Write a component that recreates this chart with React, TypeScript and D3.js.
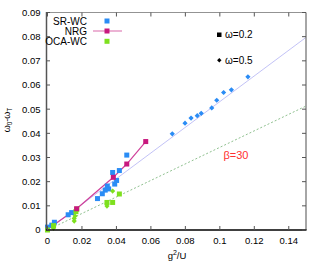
import * as d3 from 'd3'

// data
const srSquares: [number, number][] = [
  [0.0, 0.0012], [0.004, 0.0032], [0.0025, 0.002], [0.012, 0.0063], [0.014, 0.0072],
  [0.029, 0.013], [0.0318, 0.015], [0.0335, 0.0165], [0.0347, 0.0182], [0.0355, 0.017],
  [0.0378, 0.0238], [0.0401, 0.0205], [0.039, 0.019], [0.0417, 0.0246], [0.046, 0.031],
]
const srDiamonds: [number, number][] = [
  [0.0724, 0.0398], [0.0798, 0.0442], [0.0833, 0.0463], [0.0869, 0.0473], [0.0892, 0.0483],
  [0.0953, 0.0505], [0.0982, 0.0537], [0.1022, 0.0569], [0.1067, 0.058], [0.1163, 0.0634],
]
const ocaSquares: [number, number][] = [
  [0.0, 0.0], [0.0035, 0.0018], [0.0165, 0.0076], [0.017, 0.0086],
  [0.0345, 0.0114], [0.0378, 0.0114], [0.0417, 0.0149],
]
const ocaDiamonds: [number, number][] = [
  [0.0, 0.0002], [0.0035, 0.0008], [0.0155, 0.0048], [0.0155, 0.0037], [0.016, 0.0058],
  [0.0345, 0.0099], [0.0345, 0.0108], [0.0378, 0.0161],
]
const nrg: [number, number][] = [
  [0.0, 0.0003], [0.0169, 0.0088], [0.0382, 0.0218], [0.046, 0.0273], [0.057, 0.0366],
]
const fitSR: [number, number][] = [[0, 0], [0.15, 0.0797]]
const fitOCA: [number, number][] = [[0, 0], [0.15, 0.0513]]
const xTicks = [0, 0.02, 0.04, 0.06, 0.08, 0.1, 0.12, 0.14]
const yTicks = [0, 0.01, 0.02, 0.03, 0.04, 0.05, 0.06, 0.07, 0.08, 0.09]

const blue = '#2a8cf5'
const green = '#7ee01e'
const pink = '#c8187e'

const App = () => {
  const x = d3.scaleLinear().domain([0, 0.15]).range([47.5, 306])
  const y = d3.scaleLinear().domain([0, 0.09]).range([230, 12.5])
  const line = d3.line<[number, number]>().x((d) => x(d[0])).y((d) => y(d[1]))
  const diamond = (cx: number, cy: number, r = 2.6) =>
    `M${cx},${cy - r}L${cx + r},${cy}L${cx},${cy + r}L${cx - r},${cy}Z`
  const fmt = (v: number) => (v === 0 ? '0' : String(+v.toFixed(2)))
  const font = 'Liberation Sans, Arial, sans-serif'

  return (
    <svg width={334} height={275} style={{ position: 'absolute', left: 0, top: 0 }} fontFamily={font}>
      <rect width={334} height={275} fill="white" />
      {/* fit lines */}
      <path d={line(fitSR)!} stroke="#b2b2f4" strokeWidth={0.8} fill="none" />
      <path d={line(fitOCA)!} stroke="#72b072" strokeWidth={0.8} strokeDasharray="2,2" fill="none" />
      {/* NRG */}
      <path d={line(nrg)!} stroke="#d0409a" strokeWidth={1.2} fill="none" />
      {srSquares.map((d, i) => (
        <rect key={'bs' + i} x={x(d[0]) - 2.5} y={y(d[1]) - 2.5} width={5} height={5} fill={blue} />
      ))}
      {srDiamonds.map((d, i) => (
        <path key={'bd' + i} d={diamond(x(d[0]), y(d[1]))} fill={blue} />
      ))}
      {ocaSquares.map((d, i) => (
        <rect key={'gs' + i} x={x(d[0]) - 2.5} y={y(d[1]) - 2.5} width={5} height={5} fill={green} />
      ))}
      {ocaDiamonds.map((d, i) => (
        <path key={'gd' + i} d={diamond(x(d[0]), y(d[1]))} fill={green} />
      ))}
      {nrg.slice(1).map((d, i) => (
        <rect key={'n' + i} x={x(d[0]) - 2.5} y={y(d[1]) - 2.5} width={5} height={5} fill={pink} />
      ))}
      {/* frame */}
      <line x1={306} y1={12.5} x2={306} y2={230} stroke="#888" strokeWidth={1.5} />
      <line x1={46.5} y1={12.5} x2={306} y2={12.5} stroke="#777" strokeWidth={0.8} />
      <line x1={46.5} y1={12} x2={46.5} y2={230} stroke="#555" strokeWidth={1.5} />
      <line x1={46} y1={230} x2={306.5} y2={230} stroke="#000" strokeWidth={1.5} />
      {xTicks.map((t) => (
        <g key={'x' + t}>
          <line x1={x(t)} x2={x(t)} y1={230} y2={226} stroke="#555" />
          <line x1={x(t)} x2={x(t)} y1={12.5} y2={16.5} stroke="#555" />
          <text x={x(t)} y={244} fontSize={9.5} textAnchor="middle">{fmt(t)}</text>
        </g>
      ))}
      {yTicks.map((t) => (
        <g key={'y' + t}>
          <line x1={46.5} x2={50} y1={y(t)} y2={y(t)} stroke="#555" />
          <line x1={306} x2={302} y1={y(t)} y2={y(t)} stroke="#555" />
          <text x={40.5} y={y(t) + 3.4} fontSize={9.5} textAnchor="end">{fmt(t)}</text>
        </g>
      ))}
      {/* axis labels */}
      <text x={177} y={259} fontSize={9.5} textAnchor="middle">
        g<tspan dy={-4} fontSize={7}>2</tspan><tspan dy={4}>/U</tspan>
      </text>
      <text transform="translate(10,120) rotate(-90)" fontSize={9} textAnchor="middle">
        ω<tspan dy={2} fontSize={6.5}>0</tspan><tspan dy={-2}>-ω</tspan><tspan dy={2} fontSize={6.5}>T</tspan>
      </text>
      {/* legend */}
      <text x={87} y={24.5} fontSize={10} textAnchor="end">SR-WC</text>
      <rect x={104.5} y={18.5} width={5} height={5} fill={blue} />
      <text x={87} y={34.5} fontSize={10} textAnchor="end">NRG</text>
      <line x1={93} x2={122} y1={31} y2={31} stroke="#e080b8" strokeWidth={1.2} />
      <rect x={104.5} y={28.5} width={5} height={5} fill={pink} />
      <text x={87} y={44.5} fontSize={10} textAnchor="end">OCA-WC</text>
      <rect x={104.5} y={38.8} width={5} height={5} fill={green} />
      {/* annotations */}
      <rect x={217} y={32.5} width={4.5} height={4.5} fill="#000" />
      <text x={225} y={38} fontSize={10}>ω=0.2</text>
      <path d={diamond(219.3, 60.3, 2.2)} fill="#000" />
      <text x={225} y={63.5} fontSize={10}>ω=0.5</text>
      <text x={223.5} y={159} fontSize={11} fill="#ff3030">β=30</text>
    </svg>
  )
}

export default App
